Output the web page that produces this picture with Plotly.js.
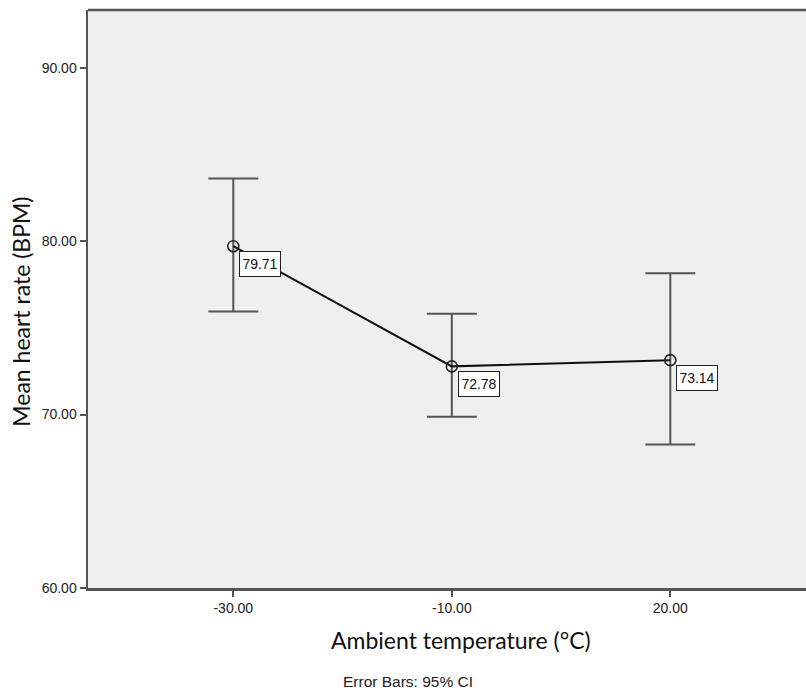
<!DOCTYPE html>
<html>
<head>
<meta charset="utf-8">
<script src="https://cdn.plot.ly/plotly-3.0.1.min.js"></script>
<style>
  html, body { margin: 0; padding: 0; background: #ffffff; }
  #chart { width: 806px; height: 692px; }
</style>
</head>
<body>
<div id="chart"></div>
<script>
// Ambient temperature groups (°C)
const temperatures = ["-30.00", "-10.00", "20.00"];
// Mean heart rate (BPM) per group
const meanHeartRate = [79.71, 72.78, 73.14];
// 95% confidence interval bounds
const ciUpper = [83.62, 75.81, 78.15];
const ciLower = [75.94, 69.88, 68.27];
// Y axis ticks
const yTickValues = [60, 70, 80, 90];
const yTickLabels = ["60.00", "70.00", "80.00", "90.00"];

const errPlus = meanHeartRate.map((m, i) => ciUpper[i] - m);
const errMinus = meanHeartRate.map((m, i) => m - ciLower[i]);

const tickFont = { family: "Liberation Sans, Arial, sans-serif", size: 14, color: "#222" };
const titleFont = { family: "Lato, 'Open Sans', sans-serif", size: 23, color: "#111" };

const traces = [
  {
    type: "scatter",
    mode: "lines+markers",
    x: temperatures,
    y: meanHeartRate,
    line: { color: "#111", width: 2 },
    marker: { symbol: "circle-open", size: 11, color: "#222", line: { width: 1.6, color: "#222" } },
    error_y: {
      type: "data",
      symmetric: false,
      array: errPlus,
      arrayminus: errMinus,
      color: "#555",
      thickness: 2,
      width: 25
    },
    hoverinfo: "skip"
  }
];

// Value labels in small boxes just below-right of each mean
// (x given as the category index so numeric-looking names are not misread)
const valueLabels = temperatures.map((t, i) => ({
  x: i,
  y: meanHeartRate[i],
  xref: "x",
  yref: "y",
  text: meanHeartRate[i].toFixed(2),
  showarrow: false,
  xanchor: "left",
  yanchor: "top",
  xshift: 6,
  yshift: -5,
  width: 34,
  height: 18,
  bgcolor: "#ffffff",
  bordercolor: "#222",
  borderwidth: 1,
  borderpad: 3,
  font: { family: "Liberation Sans, Arial, sans-serif", size: 14, color: "#111" }
}));

const layout = {
  width: 806,
  height: 692,
  margin: { l: 88, r: 0, t: 10, b: 104 },
  paper_bgcolor: "#ffffff",
  plot_bgcolor: "#efefef",
  showlegend: false,
  xaxis: {
    type: "category",
    range: [-0.665, 2.621],
    showgrid: false,
    zeroline: false,
    showline: true,
    linecolor: "#555",
    linewidth: 2.5,
    ticks: "outside",
    ticklen: 6,
    tickwidth: 2,
    tickcolor: "#555",
    tickfont: tickFont,
    fixedrange: true
  },
  yaxis: {
    range: [60, 93.33],
    tickvals: yTickValues,
    ticktext: yTickLabels,
    showgrid: false,
    zeroline: false,
    showline: true,
    linecolor: "#555",
    linewidth: 2.5,
    ticks: "outside",
    ticklen: 6,
    tickwidth: 2,
    tickcolor: "#555",
    tickfont: tickFont,
    fixedrange: true
  },
  shapes: [
    { type: "line", xref: "paper", yref: "paper", x0: 0, x1: 1, y0: 1, y1: 1,
      line: { color: "#555", width: 2.5 } }
  ],
  annotations: valueLabels.concat([
    {
      text: "Mean heart rate (BPM)",
      xref: "paper", yref: "paper",
      x: 0, y: 0.478,
      xshift: -67,
      showarrow: false,
      textangle: -90,
      xanchor: "center", yanchor: "middle",
      font: titleFont
    },
    {
      text: "Ambient temperature (°C)",
      xref: "paper", yref: "paper",
      x: 0.52, y: 0,
      yshift: -52,
      showarrow: false,
      xanchor: "center", yanchor: "middle",
      font: titleFont
    },
    {
      text: "Error Bars: 95% CI",
      xref: "paper", yref: "paper",
      x: 0.445, y: 0,
      yshift: -93,
      showarrow: false,
      xanchor: "center", yanchor: "middle",
      font: { family: "Liberation Sans, Arial, sans-serif", size: 15.5, color: "#222" }
    }
  ])
};

Plotly.newPlot("chart", traces, layout, { displayModeBar: false, staticPlot: true });
</script>
</body>
</html>
